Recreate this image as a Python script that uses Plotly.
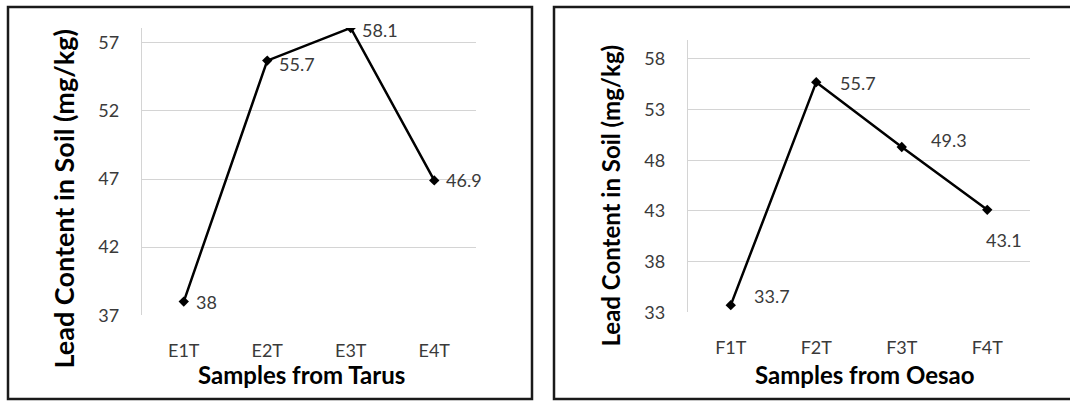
import plotly.graph_objects as go

# ---- data ----
tarus_samples = ["E1T", "E2T", "E3T", "E4T"]
tarus_lead = [38, 55.7, 58.1, 46.9]
oesao_samples = ["F1T", "F2T", "F3T", "F4T"]
oesao_lead = [33.7, 55.7, 49.3, 43.1]
tarus_yticks = [37, 42, 47, 52, 57]
oesao_yticks = [33, 38, 43, 48, 53, 58]
y_title = "Lead Content in Soil (mg/kg)"
tarus_xtitle = "Samples from Tarus"
oesao_xtitle = "Samples from Oesao"

W, H = 1070, 412          # rendered height; layout positions below use 403-px reference grid
REF_H = 403
FONT = "Lato, 'Open Sans', sans-serif"
TICK_COLOR = "#3a3a3a"
GRID = "#d4d4d4"

def px(x):
    return x / W

def py(y):
    return (REF_H - y) / REF_H

fig = go.Figure()

fig.add_trace(go.Scatter(
    x=list(range(len(tarus_samples))), y=tarus_lead, mode="lines+markers",
    line=dict(color="black", width=2.5),
    marker=dict(symbol="diamond", size=8, color="black"),
    xaxis="x", yaxis="y", showlegend=False, hoverinfo="x+y"))

fig.add_trace(go.Scatter(
    x=list(range(len(oesao_samples))), y=oesao_lead, mode="lines+markers",
    line=dict(color="black", width=2.5),
    marker=dict(symbol="diamond", size=8, color="black"),
    xaxis="x2", yaxis="y2", showlegend=False, hoverinfo="x+y"))

common_y = dict(showgrid=True, gridcolor=GRID, gridwidth=1.3, zeroline=False,
                showline=True, linecolor=GRID, linewidth=1.3,
                ticks="outside", ticklen=18, tickcolor="rgba(0,0,0,0)",
                tickfont=dict(family=FONT, size=18, color=TICK_COLOR))
common_x = dict(showgrid=False, zeroline=False, showline=False,
                ticks="outside", ticklen=19, tickcolor="rgba(0,0,0,0)",
                tickfont=dict(family=FONT, size=18, color=TICK_COLOR))

fig.update_layout(
    width=W, height=H,
    margin=dict(l=0, r=0, t=0, b=0),
    paper_bgcolor="white", plot_bgcolor="white",
    xaxis=dict(domain=[px(142), px(476)], anchor="y",
               range=[-0.5, 3.5], tickvals=list(range(4)),
               ticktext=tarus_samples, **common_x),
    yaxis=dict(domain=[py(316), py(28)], anchor="x",
               range=[37, 58.1], tickvals=tarus_yticks, **common_y),
    xaxis2=dict(domain=[px(688), px(1030)], anchor="y2",
                range=[-0.5, 3.5], tickvals=list(range(4)),
                ticktext=oesao_samples, **common_x),
    yaxis2=dict(domain=[py(313), py(40)], anchor="x2",
                range=[33, 59.87], tickvals=oesao_yticks, **common_y),
)

ann = []
# data labels (offsets in pixels)
label_font = dict(family=FONT, size=18, color=TICK_COLOR)
tarus_off = [(10, 0), (10, -3), (9, -2), (10, 0)]
for i, (v, (dx, dy)) in enumerate(zip(tarus_lead, tarus_off)):
    ann.append(dict(x=i, y=v, xref="x", yref="y", text=f"{v:g}", showarrow=False,
                    xanchor="left", yanchor="middle", xshift=dx, yshift=dy, font=label_font))
oesao_off = [(21, 9), (22, -1), (27, 7), (-3, -30)]
for i, (v, (dx, dy)) in enumerate(zip(oesao_lead, oesao_off)):
    ann.append(dict(x=i, y=v, xref="x2", yref="y2", text=f"{v:g}", showarrow=False,
                    xanchor="left", yanchor="middle", xshift=dx, yshift=dy, font=label_font))

# axis titles
xt_font = dict(family=FONT, size=24, color="black")
ann.append(dict(x=px(301), y=py(375), xref="paper", yref="paper", text=f"<b>{tarus_xtitle}</b>",
                showarrow=False, xanchor="center", yanchor="middle", font=xt_font))
ann.append(dict(x=px(865), y=py(375), xref="paper", yref="paper", text=f"<b>{oesao_xtitle}</b>",
                showarrow=False, xanchor="center", yanchor="middle", font=xt_font))
ann.append(dict(x=px(64), y=py(200), xref="paper", yref="paper", text=f"<b>{y_title}</b>",
                showarrow=False, xanchor="center", yanchor="middle", textangle=-90,
                font=dict(family=FONT, size=27, color="black")))
ann.append(dict(x=px(611), y=py(196), xref="paper", yref="paper", text=f"<b>{y_title}</b>",
                showarrow=False, xanchor="center", yanchor="middle", textangle=-90,
                font=dict(family=FONT, size=24, color="black")))
fig.update_layout(annotations=ann)

# panel borders
border = dict(color="#1a1a1a", width=2.5)
fig.add_shape(type="rect", xref="paper", yref="paper",
              x0=px(8), x1=px(532), y0=py(400), y1=py(7), line=border)
fig.add_shape(type="rect", xref="paper", yref="paper",
              x0=px(554), x1=px(1075), y0=py(400), y1=py(7), line=border)

fig.write_html("out.html", config={"displayModeBar": False},
               post_script="document.body.style.margin='0';document.body.style.overflow='hidden';")
